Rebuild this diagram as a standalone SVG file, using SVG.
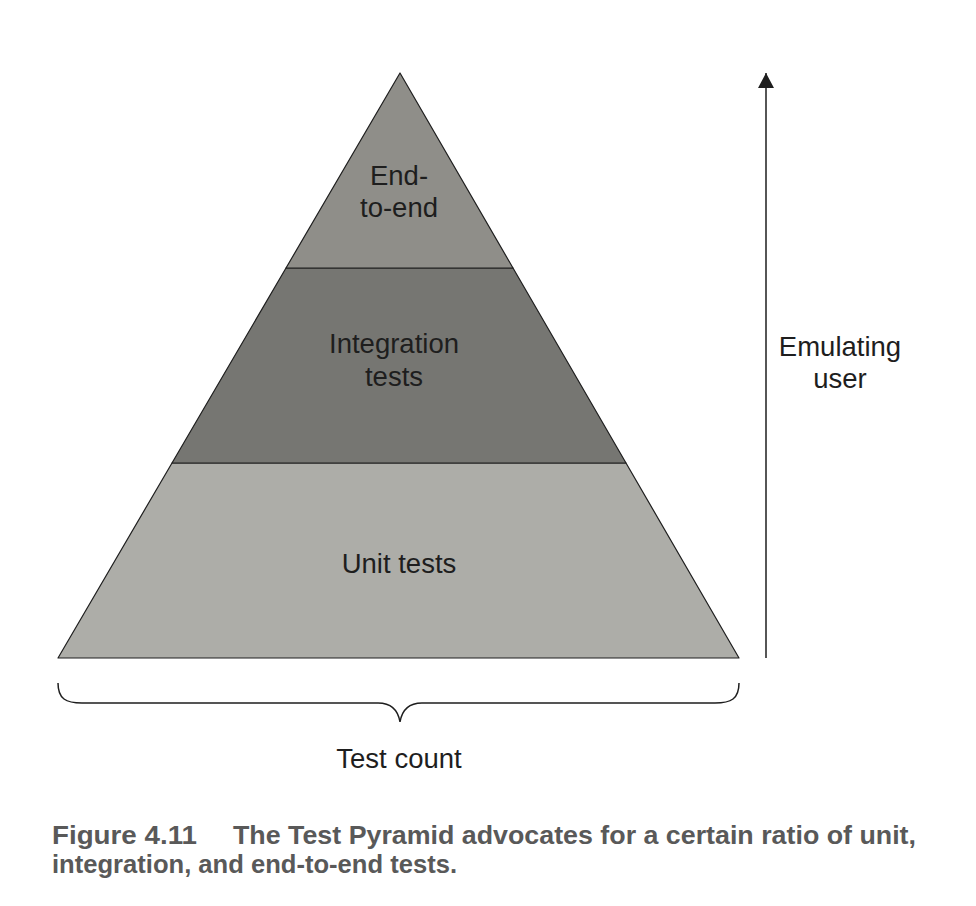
<svg xmlns="http://www.w3.org/2000/svg" width="976" height="906" viewBox="0 0 976 906">
<style>
.lbl{font-family:"Liberation Sans",Arial,sans-serif;font-size:27.5px;fill:#1e1e1e;text-anchor:middle}
.cap{font-family:"Liberation Sans",Arial,sans-serif;font-weight:bold;font-size:26.5px;fill:#595959}
.band{stroke:#1e1e1e;stroke-width:1.2;stroke-linejoin:round}
.ln{fill:none;stroke:#1e1e1e;stroke-width:1.5}
</style>
<defs>
<marker id="ah" viewBox="0 0 15 16" refX="15" refY="8" markerWidth="15" markerHeight="16" markerUnits="userSpaceOnUse" orient="auto">
<path d="M0,0 L15,8 L0,16 Z" fill="#1e1e1e"/>
</marker>
</defs>
<rect width="976" height="906" fill="#ffffff"/>
<g id="unit">
<polygon class="band" points="172,463 626,463 739,658 58,658" fill="#adada8"/>
<text class="lbl" x="399" y="573">Unit tests</text>
</g>
<g id="integration">
<polygon class="band" points="286,268 513,268 626,463 172,463" fill="#767672"/>
<text class="lbl" x="394" y="353">Integration</text>
<text class="lbl" x="394" y="386">tests</text>
</g>
<g id="end-to-end">
<polygon class="band" points="400,73 513,268 286,268" fill="#8f8e89"/>
<text class="lbl" x="399" y="185">End-</text>
<text class="lbl" x="399" y="217">to-end</text>
</g>
<g id="connectors">
<line class="ln" x1="766" y1="658" x2="766" y2="73" marker-end="url(#ah)"/>
<path class="ln" d="M58,683 C58,699 66,703 82,703 L378,703 C392,703 398,710 400,722 C402,710 408,703 422,703 L715,703 C731,703 739,699 739,683"/>
</g>
<g id="emulating">
<text class="lbl" x="840" y="356">Emulating</text>
<text class="lbl" x="840" y="388">user</text>
</g>
<g id="testcount">
<text class="lbl" x="399" y="768">Test count</text>
</g>
<g id="caption">
<text class="cap" x="52" y="844" textLength="145" lengthAdjust="spacingAndGlyphs">Figure 4.11</text>
<text class="cap" x="233" y="844" textLength="683" lengthAdjust="spacingAndGlyphs">The Test Pyramid advocates for a certain ratio of unit,</text>
<text class="cap" x="52" y="873" textLength="405" lengthAdjust="spacingAndGlyphs">integration, and end-to-end tests.</text>
</g>
</svg>
